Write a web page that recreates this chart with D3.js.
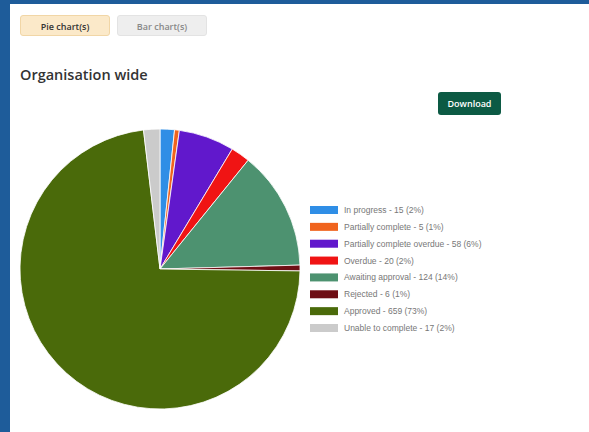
<!DOCTYPE html>
<html>
<head>
<meta charset="utf-8">
<script src="https://cdn.jsdelivr.net/npm/d3@7"></script>
<style>
  html, body { margin: 0; padding: 0; }
  body { width: 589px; height: 432px; background: #1e5c9a; overflow: hidden; position: relative; font-family: "Open Sans", sans-serif; }
  .panel { position: absolute; left: 10px; top: 4px; right: 0; bottom: 0; background: #fff; }
  .btn { position: absolute; top: 11px; width: 90px; height: 21px; border-radius: 3px; font-size: 9px; font-weight: 600; text-align: center; line-height: 21px; box-sizing: border-box; }
  .pie-btn { left: 10px; background: #fbe9c9; border: 1px solid #f1d6a6; color: #333; }
  .bar-btn { left: 107px; background: #eeeeee; border: 1px solid #e3e3e3; color: #888; }
  h2 { position: absolute; left: 10px; top: 61px; margin: 0; font-size: 14.5px; font-weight: 600; color: #333; }
  .dl { position: absolute; left: 428px; top: 88px; width: 63px; height: 23px; background: #0c5a44; border-radius: 3px; color: #fff; font-size: 9px; font-weight: 600; text-align: center; line-height: 23px; }
  svg { position: absolute; left: 0; top: 0; }
</style>
</head>
<body>
<div class="panel">
  <div class="btn pie-btn">Pie chart(s)</div>
  <div class="btn bar-btn">Bar chart(s)</div>
  <h2>Organisation wide</h2>
  <div class="dl">Download</div>
</div>
<div id="chart"></div>
<script>
// chart values
const categories = ["In progress", "Partially complete", "Partially complete overdue", "Overdue",
  "Awaiting approval", "Rejected", "Approved", "Unable to complete"];
const counts = [15, 5, 58, 20, 124, 6, 659, 17];
const percents = ["2%", "1%", "6%", "2%", "14%", "1%", "73%", "2%"];
const colours = ["#2f8ee6", "#f0641e", "#6118cc", "#f01414", "#4d9270", "#6e0e14", "#4a6a0a", "#cbcbcb"];

const width = 589, height = 432;
const cx = 160, cy = 269, radius = 140;

const data = categories.map((c, i) => ({ cat: c, value: counts[i], pct: percents[i] }));

const color = d3.scaleOrdinal().domain(categories).range(colours);

const svg = d3.select("#chart").append("svg")
  .attr("width", width)
  .attr("height", height);

// pie
const pie = d3.pie().sort(null).value(d => d.value);
const arc = d3.arc().innerRadius(0).outerRadius(radius);

svg.append("g")
  .attr("transform", `translate(${cx},${cy})`)
  .selectAll("path")
  .data(pie(data))
  .join("path")
  .attr("d", arc)
  .attr("fill", d => color(d.data.cat))
  .attr("stroke", "#fff")
  .attr("stroke-width", 0.8);

// legend
const legendY = d3.scalePoint()
  .domain(categories)
  .range([210, 328]);

const legend = svg.append("g")
  .selectAll("g")
  .data(data)
  .join("g")
  .attr("transform", d => `translate(310,${legendY(d.cat)})`);

legend.append("rect")
  .attr("x", 0)
  .attr("y", -4)
  .attr("width", 28)
  .attr("height", 8)
  .attr("fill", d => color(d.cat));

legend.append("text")
  .attr("x", 34)
  .attr("y", 3)
  .attr("font-family", "Liberation Sans, Arial, sans-serif")
  .attr("font-size", 8.5)
  .attr("fill", "#777")
  .text(d => `${d.cat} - ${d.value} (${d.pct})`);
</script>
</body>
</html>
